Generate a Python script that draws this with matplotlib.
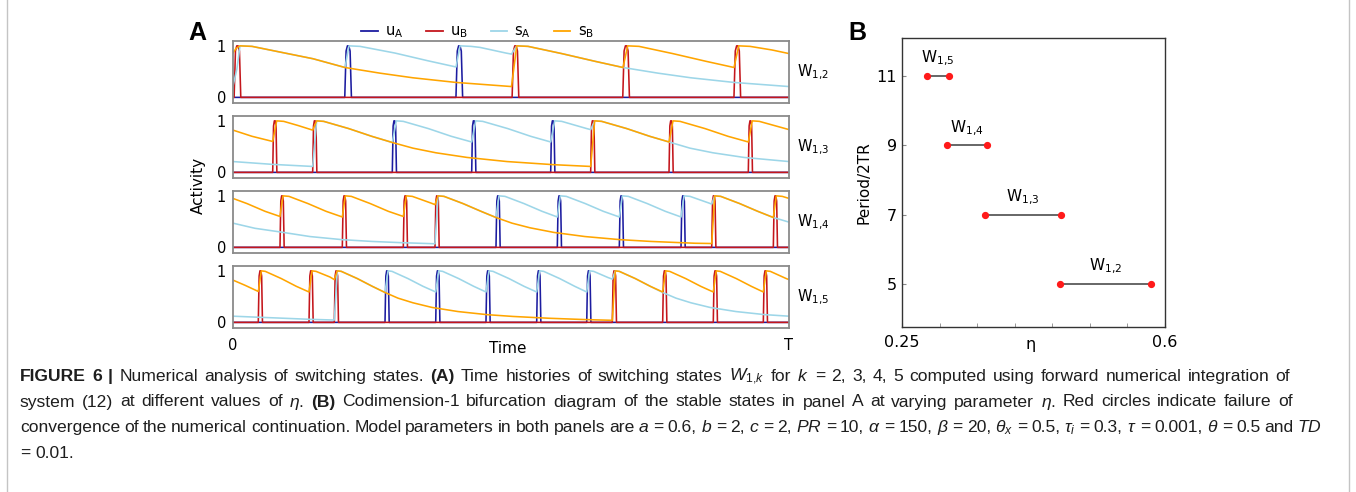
import matplotlib
matplotlib.use("Agg")
import matplotlib.pyplot as plt
from matplotlib.lines import Line2D
from matplotlib import font_manager

# ------------------------------------------------------------------
# DATA  (panel A: time in % of T, activity 0..1)
# ------------------------------------------------------------------
state_labels_A = [r"$\mathregular{W_{1{,}2}}$", r"$\mathregular{W_{1{,}3}}$",
                  r"$\mathregular{W_{1{,}4}}$", r"$\mathregular{W_{1{,}5}}$"]
legend_labels = [r"$\mathregular{u_A}$", r"$\mathregular{u_B}$",
                 r"$\mathregular{s_A}$", r"$\mathregular{s_B}$"]

# W1,2
w12_uA = [20.1, 40.1]
w12_uB = [0.2, 50.2, 70.1, 90.1]
w12_sA_t = [0, 0.7, 1.26, 3.42, 9.35, 14.39, 20.14, 20.86, 22.84, 29.14, 35.07, 40.11, 40.83, 42.81,
            44.42, 49.1, 50.09, 51.03, 53.06, 59.12, 65.11, 70.14, 76.44, 82.37, 90.11, 100]
w12_sA_v = [0.22, 0.55, 1.0, 0.99, 0.86, 0.75, 0.58, 1.0, 0.99, 0.86, 0.71, 0.59, 1.0, 0.99,
            0.97, 0.86, 0.84, 1.0, 0.99, 0.85, 0.70, 0.58, 0.47, 0.38, 0.29, 0.21]
w12_sB_t = [0, 0.54, 1.26, 3.42, 9.35, 14.39, 20.14, 26.44, 32.37, 40.11, 50.09, 51.03, 53.06, 59.12,
            65.11, 70.14, 70.99, 73.02, 79.08, 85.07, 90.11, 90.95, 92.99, 96.94, 100]
w12_sB_v = [0.86, 0.95, 1.0, 0.99, 0.86, 0.75, 0.58, 0.47, 0.38, 0.29, 0.21, 1.0, 0.99, 0.85,
            0.70, 0.58, 1.0, 0.99, 0.85, 0.70, 0.58, 1.0, 0.99, 0.92, 0.85]

# W1,3
w13_uA = [28.65, 42.93, 57.14]
w13_uB = [7.14, 14.33, 64.33, 78.42, 92.68]
w13_sA_t = [0, 7.14, 14.33, 15.05, 16.31, 20.81, 24.95, 28.65, 29.37, 30.63, 35.13, 39.26, 42.93,
            43.65, 44.91, 49.41, 53.54, 57.14, 57.86, 59.12, 63.62, 64.33, 65.05, 66.31, 70.81,
            74.95, 78.42, 82.19, 86.33, 91.91, 100]
w13_sA_v = [0.21, 0.155, 0.115, 1.0, 0.99, 0.85, 0.70, 0.58, 1.0, 0.99, 0.85, 0.70, 0.59,
            1.0, 0.99, 0.85, 0.70, 0.59, 1.0, 0.99, 0.85, 0.83, 1.0, 0.99, 0.85,
            0.70, 0.59, 0.47, 0.38, 0.29, 0.21]
w13_sB_t = [0, 3.42, 7.14, 7.86, 9.12, 11.69, 14.33, 15.05, 16.31, 20.81, 24.95, 28.65, 32.37,
            36.51, 42.09, 49.28, 57.55, 64.33, 65.05, 66.31, 70.81, 74.95, 78.42, 79.14, 80.40,
            84.89, 89.03, 92.68, 93.40, 94.66, 100]
w13_sB_v = [0.82, 0.70, 0.60, 1.0, 0.99, 0.91, 0.82, 1.0, 0.99, 0.85, 0.70, 0.58, 0.47,
            0.38, 0.29, 0.21, 0.15, 0.115, 1.0, 0.99, 0.85, 0.70, 0.59, 1.0, 0.99,
            0.85, 0.70, 0.59, 1.0, 0.99, 0.83]

# W1,4
w14_uA = [47.30, 58.33, 69.48, 80.58]
w14_uB = [8.45, 19.66, 30.63, 36.33, 86.10, 97.18]
w14_sA_t = [0, 3.96, 8.45, 13.85, 19.60, 25.0, 30.58, 36.33, 36.87, 37.95, 41.37, 44.60, 47.30,
            47.84, 48.92, 52.34, 55.58, 58.33, 58.87, 59.95, 63.36, 66.60, 69.48, 70.02, 71.10,
            74.51, 77.75, 80.58, 81.12, 82.19, 85.61, 86.10, 86.64, 87.72, 91.13, 94.37, 97.18, 100]
w14_sA_v = [0.47, 0.37, 0.30, 0.21, 0.15, 0.115, 0.09, 0.07, 1.0, 0.99, 0.85, 0.70, 0.58,
            1.0, 0.99, 0.85, 0.70, 0.59, 1.0, 0.99, 0.85, 0.70, 0.59, 1.0, 0.99,
            0.85, 0.70, 0.59, 1.0, 0.99, 0.86, 0.84, 1.0, 0.99, 0.85, 0.70, 0.58, 0.49]
w14_sB_t = [0, 2.52, 5.76, 8.45, 8.99, 10.07, 13.49, 16.73, 19.66, 20.20, 21.28, 24.69, 27.93,
            30.63, 31.17, 32.25, 35.61, 36.33, 36.87, 37.95, 41.37, 44.60, 47.30, 50.18, 53.42,
            57.73, 63.31, 69.60, 75.18, 83.09, 86.10, 86.64, 87.72, 91.13, 94.37, 97.18, 97.72,
            98.79, 100]
w14_sB_v = [0.95, 0.85, 0.70, 0.60, 1.0, 0.99, 0.85, 0.70, 0.59, 1.0, 0.99, 0.85, 0.70,
            0.60, 1.0, 0.99, 0.86, 0.83, 1.0, 0.99, 0.85, 0.70, 0.58, 0.47, 0.38,
            0.29, 0.21, 0.15, 0.115, 0.08, 0.075, 1.0, 0.99, 0.85, 0.70, 0.58, 1.0,
            0.99, 0.95]

# W1,5
w15_uA = [27.34, 36.46, 45.50, 54.62, 63.62]
w15_uB = [4.55, 13.67, 18.22, 68.22, 77.28, 86.38, 95.38]
w15_sA_t = [0, 4.50, 9.17, 13.67, 18.22, 18.76, 19.48, 22.36, 25.05, 27.34, 27.88, 28.60, 31.47,
            34.17, 36.46, 37.0, 37.71, 40.59, 43.29, 45.50, 46.04, 46.76, 49.64, 52.34, 54.62,
            55.16, 55.88, 58.76, 61.46, 63.62, 64.15, 64.87, 67.45, 68.22, 68.76, 69.48, 72.36,
            75.05, 77.28, 79.68, 82.37, 85.79, 90.47, 95.68, 100]
w15_sA_v = [0.12, 0.10, 0.08, 0.06, 0.045, 1.0, 0.99, 0.85, 0.70, 0.58, 1.0, 0.99, 0.85,
            0.70, 0.59, 1.0, 0.99, 0.85, 0.70, 0.59, 1.0, 0.99, 0.85, 0.70, 0.59,
            1.0, 0.99, 0.85, 0.70, 0.59, 1.0, 0.99, 0.87, 0.84, 1.0, 0.99, 0.85,
            0.70, 0.58, 0.47, 0.38, 0.29, 0.21, 0.15, 0.12]
w15_sB_t = [0, 2.16, 4.55, 5.09, 5.81, 8.69, 11.38, 13.67, 14.21, 14.93, 17.45, 18.22, 18.76,
            19.48, 22.36, 25.05, 27.34, 29.68, 32.37, 35.79, 40.47, 45.68, 50.36, 56.83, 63.13,
            68.22, 68.76, 69.48, 72.36, 75.05, 77.28, 77.82, 78.54, 81.42, 84.12, 86.38, 86.92,
            87.64, 90.52, 93.22, 95.38, 95.92, 96.64, 99.51, 100]
w15_sB_v = [0.82, 0.72, 0.60, 1.0, 0.99, 0.85, 0.70, 0.59, 1.0, 0.99, 0.88, 0.83, 1.0,
            0.99, 0.85, 0.70, 0.58, 0.47, 0.38, 0.29, 0.21, 0.15, 0.115, 0.08, 0.055,
            0.04, 1.0, 0.99, 0.85, 0.70, 0.59, 1.0, 0.99, 0.85, 0.70, 0.59, 1.0,
            0.99, 0.85, 0.70, 0.59, 1.0, 0.99, 0.85, 0.83]

# Panel B: bifurcation diagram
eta_lo = [0.283, 0.310, 0.360, 0.460]
eta_hi = [0.3125, 0.363, 0.462, 0.581]
period_2tr = [11, 9, 7, 5]
state_labels_B = [r"$\mathregular{W_{1{,}5}}$", r"$\mathregular{W_{1{,}4}}$",
                  r"$\mathregular{W_{1{,}3}}$", r"$\mathregular{W_{1{,}2}}$"]

# caption (words starting with * are bold)
caption_lines = [
    r"*FIGURE *6 *| Numerical analysis of switching states. *(A) Time histories of switching states $W_{1{,}k}$ for $k$ = 2, 3, 4, 5 computed using forward numerical integration of",
    r"system (12) at different values of $\eta$. *(B) Codimension-1 bifurcation diagram of the stable states in panel A at varying parameter $\eta$. Red circles indicate failure of",
    r"convergence of the numerical continuation. Model parameters in both panels are $a$ = 0.6, $b$ = 2, $c$ = 2, $PR$ = 10, $\alpha$ = 150, $\beta$ = 20, $\theta_x$ = 0.5, $\tau_i$ = 0.3, $\tau$ = 0.001, $\theta$ = 0.5 and $TD$",
    r"= 0.01.",
]

# ------------------------------------------------------------------
# STYLE
# ------------------------------------------------------------------
C_UA = "#1c1ca0"
C_UB = "#c4161c"
C_SA = "#9dd6e8"
C_SB = "#ffa500"


def pick_font(cands):
    for c in cands:
        try:
            font_manager.findfont(font_manager.FontProperties(family=c),
                                  fallback_to_default=False)
            return c
        except Exception:
            pass
    return "DejaVu Sans"


cap_font = pick_font(["Liberation Sans Narrow", "Liberation Sans", "Arial"])
bold_font = pick_font(["Liberation Sans", "Arial", "DejaVu Sans"])

plt.rcParams["font.family"] = ["DejaVu Sans"]
plt.rcParams["mathtext.fontset"] = "custom"
plt.rcParams["mathtext.rm"] = cap_font
plt.rcParams["mathtext.it"] = cap_font + ":italic"
plt.rcParams["mathtext.bf"] = cap_font + ":bold"
plt.rcParams["mathtext.sf"] = cap_font

W, H = 1356, 492
fig = plt.figure(figsize=(W / 100, H / 100), dpi=100)


def pulse_trace(onsets, width):
    t, v = [0.0], [0.0]
    for o in onsets:
        t += [o, o + 0.2 * width, o + 0.4 * width, o + 0.6 * width, o + 0.8 * width, o + width]
        v += [0.0, 0.9, 1.0, 1.0, 0.9, 0.0]
    t.append(100.0)
    v.append(0.0)
    return t, v


rows = [
    (w12_uA, w12_uB, w12_sA_t, w12_sA_v, w12_sB_t, w12_sB_v, 1.2),
    (w13_uA, w13_uB, w13_sA_t, w13_sA_v, w13_sB_t, w13_sB_v, 0.75),
    (w14_uA, w14_uB, w14_sA_t, w14_sA_v, w14_sB_t, w14_sB_v, 0.75),
    (w15_uA, w15_uB, w15_sA_t, w15_sA_v, w15_sB_t, w15_sB_v, 0.75),
]

rows_top = [40.7, 115.7, 190.7, 265.7]
row_h = 62.6
axA = []
lw = 1.15
for i, (uA, uB, sAt, sAv, sBt, sBv, pw) in enumerate(rows):
    top = rows_top[i]
    ax = fig.add_axes([233 / W, 1 - (top + row_h) / H, 556 / W, row_h / H])
    axA.append(ax)
    ta, va = pulse_trace(uA, pw)
    tb, vb = pulse_trace(uB, pw)
    ax.plot(ta, va, color=C_UA, lw=lw)
    ax.plot(tb, vb, color=C_UB, lw=lw)
    ax.plot(sAt, sAv, color=C_SA, lw=lw)
    ax.plot(sBt, sBv, color=C_SB, lw=lw)
    ax.set_xlim(0, 100)
    ax.set_ylim(-0.115, 1.10)
    ax.set_yticks([0, 1])
    ax.set_yticklabels(["0", "1"])
    ax.tick_params(axis="y", length=0, pad=5, labelsize=10.5)
    if i < 3:
        ax.set_xticks([])
    else:
        ax.set_xticks([0, 100])
        ax.set_xticklabels(["0", "T"])
        ax.tick_params(axis="x", length=0, pad=7, labelsize=10.5)
        ax.set_xlabel("Time", fontsize=11)
        ax.xaxis.set_label_coords(0.495, -0.2)
    for s in ax.spines.values():
        s.set_color("#8a8a8a")
        s.set_linewidth(1.3)
    ax.text(1.014, 0.5, state_labels_A[i], transform=ax.transAxes,
            ha="left", va="center", fontsize=10.5)

handles = [Line2D([], [], color=c, lw=1.3) for c in (C_UA, C_UB, C_SA, C_SB)]
axA[0].legend(handles, legend_labels, loc="lower center", bbox_to_anchor=(0.44, 0.98),
              ncol=4, frameon=False, fontsize=10.5, handlelength=1.1,
              columnspacing=1.6, handletextpad=0.5, borderaxespad=0.0,
              borderpad=0.1)

fig.text(198 / W, 1 - 185 / H, "Activity", rotation=90, ha="center", va="center",
         fontsize=11)

# panel labels
fig.text(197 / W, 1 - 33 / H, "A", fontsize=18, fontweight="bold",
         family=bold_font, ha="center", va="center")
fig.text(857 / W, 1 - 33 / H, "B", fontsize=18, fontweight="bold",
         family=bold_font, ha="center", va="center")

# ---------------- panel B ----------------
axB = fig.add_axes([902 / W, 1 - 327 / H, 263 / W, 289 / H])
for lo, hi, p, lab in zip(eta_lo, eta_hi, period_2tr, state_labels_B):
    axB.plot([lo, hi], [p, p], color="#4d4d4d", lw=1.2, zorder=2)
    axB.plot([lo, hi], [p, p], ls="none", marker="o", ms=4.2, color="#ff1a1a",
             mec="#ff1a1a", zorder=3)
    axB.text((lo + hi) / 2, p + 0.22, lab, ha="center", va="bottom", fontsize=11)
axB.set_xlim(0.25, 0.6)
axB.set_ylim(3.75, 12.1)
axB.set_xticks([0.25, 0.6])
axB.set_xticklabels(["0.25", "0.6"])
axB.set_xticks([0.30, 0.35, 0.40, 0.45, 0.50, 0.55], minor=True)
axB.set_yticks(period_2tr)
axB.set_yticklabels([str(p) for p in period_2tr])
axB.tick_params(axis="both", which="both", direction="in", length=3, color="#888888",
                labelsize=11.5)
axB.tick_params(axis="x", pad=6)
axB.set_xlabel("η", fontsize=11.5)
axB.xaxis.set_label_coords(0.49, -0.035)
axB.set_ylabel("Period/2TR", fontsize=11)
for s in axB.spines.values():
    s.set_color("#333333")
    s.set_linewidth(1.0)

# ---------------- caption (word-justified lines) ----------------
base_y = [381, 406.5, 432, 457.5]
right_edge = [1290, 1293, 1322, None]
left_px = 20
fs0 = 12.0
cap_words = []
for line, yb in zip(caption_lines, base_y):
    words = []
    for w in line.split(" "):
        bold = w.startswith("*")
        txt = w[1:] if bold else w
        t = fig.text(0, 1 - yb / H, txt, ha="left", va="baseline", family=cap_font,
                     fontsize=fs0, fontweight="bold" if bold else "normal",
                     color="#1e1e1e")
        words.append(t)
    cap_words.append(words)

fig.canvas.draw()
r = fig.canvas.get_renderer()


def widths(words):
    return [t.get_window_extent(r).width for t in words]


# font size: line 3 fits its span with spaces squeezed to 0.8 of normal
sp0 = 0.278 * fs0 * 100 / 72
w3 = widths(cap_words[2])
nat3 = sum(w3) + 0.8 * sp0 * (len(w3) - 1)
fs = max(8.0, min(15.0, fs0 * (right_edge[2] - left_px) / nat3))
for words in cap_words:
    for t in words:
        t.set_fontsize(fs)
fig.canvas.draw()
sp = 0.278 * fs * 100 / 72
for words, re_ in zip(cap_words, right_edge):
    ws = widths(words)
    if re_ is None or len(ws) < 2:
        gap = sp
    else:
        gap = (re_ - left_px - sum(ws)) / (len(ws) - 1)
    x = left_px
    for t, w in zip(words, ws):
        t.set_x(x / W)
        x += w + gap

# frame border
for xb in (7, 1349):
    fig.add_artist(Line2D([xb / W, xb / W], [0, 1], transform=fig.transFigure,
                          color="#c4c4c4", lw=1.0))

fig.savefig("out.png", dpi=100)
